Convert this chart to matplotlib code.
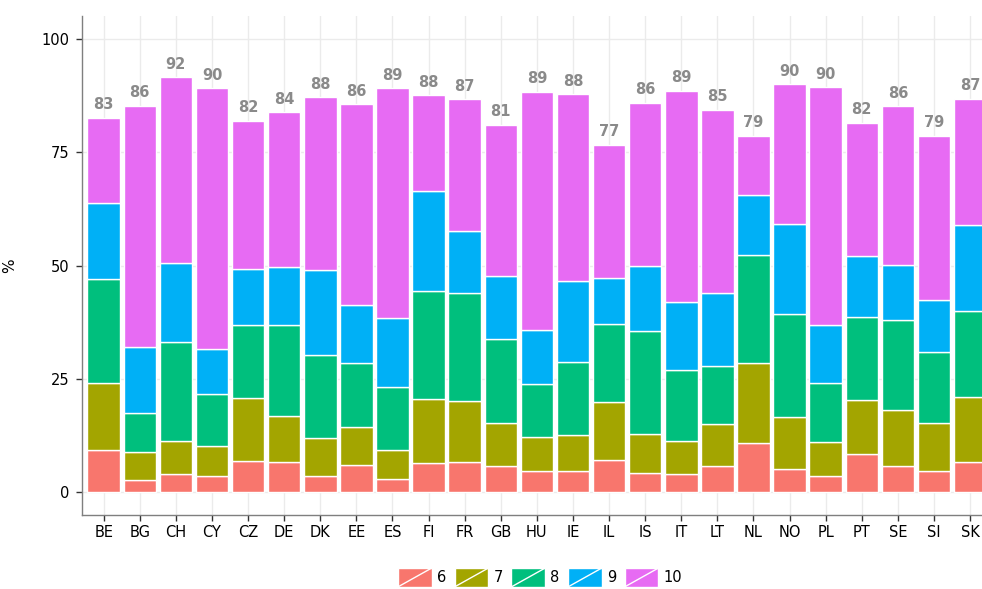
import numpy as np
import matplotlib.pyplot as plt
from matplotlib.patches import Rectangle
from matplotlib.lines import Line2D
from matplotlib.legend_handler import HandlerPatch

plt.rcParams['font.family'] = ['DejaVu Sans']

pays = ["BE", "BG", "CH", "CY", "CZ", "DE", "DK", "EE", "ES", "FI", "FR", "GB", "HU",
        "IE", "IL", "IS", "IT", "LT", "NL", "NO", "PL", "PT", "SE", "SI", "SK"]

# part de chaque note (%) par pays
note_6 = [9.3, 2.8, 4.0, 3.5, 7.0, 6.6, 3.7, 6.1, 3.0, 6.5, 6.6, 5.9, 4.6,
          4.6, 7.2, 4.3, 4.1, 5.7, 10.9, 5.2, 3.7, 8.4, 5.9, 4.8, 6.8]
note_7 = [14.8, 6.0, 7.4, 6.8, 13.9, 10.3, 8.3, 8.3, 6.4, 14.0, 13.6, 9.5, 7.6,
          8.1, 12.7, 8.6, 7.3, 9.3, 17.7, 11.5, 7.5, 12.0, 12.3, 10.6, 14.2]
note_8 = [22.9, 8.7, 21.7, 11.4, 16.1, 20.0, 18.3, 14.2, 13.8, 23.9, 23.7, 18.4, 11.6,
          16.1, 17.2, 22.7, 15.6, 12.9, 23.8, 22.6, 13.0, 18.3, 19.9, 15.6, 19.0]
note_9 = [16.9, 14.6, 17.6, 10.0, 12.2, 12.8, 18.7, 12.8, 15.2, 22.0, 13.7, 13.9, 12.0,
          17.8, 10.1, 14.3, 15.0, 16.1, 13.2, 19.9, 12.7, 13.4, 12.0, 11.4, 18.9]
note_10 = [18.7, 53.2, 40.9, 57.5, 32.8, 34.2, 38.2, 44.2, 50.7, 21.2, 29.1, 33.4, 52.6,
           41.2, 29.5, 36.1, 46.6, 40.4, 13.1, 30.8, 52.5, 29.4, 35.1, 36.3, 27.9]
totaux = [83, 86, 92, 90, 82, 84, 88, 86, 89, 88, 87, 81, 89,
          88, 77, 86, 89, 85, 79, 90, 90, 82, 86, 79, 87]

notes = ["6", "7", "8", "9", "10"]
couleurs = ["#F8766D", "#A3A500", "#00BF7D", "#00B0F6", "#E76BF3"]
series = [note_6, note_7, note_8, note_9, note_10]


class CleLegende(HandlerPatch):
    # case de légende façon ggplot : rectangle avec une diagonale blanche
    def create_artists(self, legend, orig_handle, xdescent, ydescent,
                       width, height, fontsize, trans):
        r = Rectangle((-xdescent, -ydescent), width, height,
                      facecolor=orig_handle.get_facecolor(),
                      edgecolor="white", lw=1, transform=trans)
        ln = Line2D([-xdescent, -xdescent + width], [-ydescent, -ydescent + height],
                    color="white", lw=1, transform=trans)
        return [r, ln]


fig = plt.figure(figsize=(9.82, 5.89), dpi=100)
ax = fig.add_axes([82 / 982, 1 - 515 / 589, 900 / 982, 498.6 / 589])

x = np.arange(len(pays))
bas = np.zeros(len(pays))
handles = []
for vals, coul, nom in zip(series, couleurs, notes):
    b = ax.bar(x, vals, bottom=bas, width=0.9, color=coul,
               edgecolor="white", linewidth=1, zorder=2, label=nom)
    handles.append(b.patches[0])
    bas += np.array(vals)

for xi, h, t in zip(x, bas, totaux):
    ax.text(xi, h + 1.2, str(t), ha="center", va="bottom",
            fontsize=10.5, color="#8a8a8a", fontweight="bold")

ax.set_xlim(-0.6, -0.6 + 900 / 36.1)
ax.set_ylim(-5, 105)
ax.set_xticks(x)
ax.set_xticklabels(pays)
ax.set_yticks([0, 25, 50, 75, 100])
ax.set_ylabel("%", fontsize=11)
ax.yaxis.set_label_coords(-0.072, 0.5)

ax.grid(True, color="#EBEBEB", linewidth=1, zorder=0)
ax.set_axisbelow(True)
for s in ["top", "right"]:
    ax.spines[s].set_visible(False)
for s in ["left", "bottom"]:
    ax.spines[s].set_color("#7f7f7f")
    ax.spines[s].set_linewidth(1)
ax.tick_params(axis="both", length=4, width=1, color="#333333",
               labelsize=10.5, labelcolor="black")
ax.tick_params(axis="y", pad=5)
ax.tick_params(axis="x", pad=3)

fig.legend(handles, notes, handler_map={Rectangle: CleLegende()},
           loc="upper center", bbox_to_anchor=(540 / 982, 1 - 555 / 589),
           ncol=5, frameon=False, fontsize=10.5, handlelength=2.3, handleheight=1.6,
           handletextpad=0.35, columnspacing=0.6)

fig.savefig("out.png", dpi=100)
